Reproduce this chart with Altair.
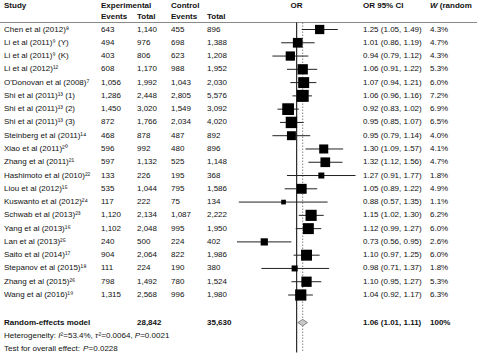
import altair as alt
import pandas as pd

# ---- study-level data ----
studies = [
    "Chen et al (2012)⁸", "Li et al (2011)⁹ (Y)", "Li et al (2011)⁹ (K)",
    "Li et al (2012)¹²", "O'Donovan et al (2008)⁷", "Shi et al (2011)¹³ (1)",
    "Shi et al (2011)¹³ (2)", "Shi et al (2011)¹³ (3)", "Steinberg et al (2011)¹⁴",
    "Xiao et al (2011)²⁰", "Zhang et al (2011)²¹", "Hashimoto et al (2010)²²",
    "Liou et al (2012)¹⁵", "Kuswanto et al (2012)²⁴", "Schwab et al (2013)²³",
    "Yang et al (2013)¹⁶", "Lan et al (2013)²⁵", "Saito et al (2014)¹⁷",
    "Stepanov et al (2015)¹⁸", "Zhang et al (2015)²⁶", "Wang et al (2016)¹⁹",
]
exp_events = [643, 494, 403, 608, 1056, 1286, 1450, 872, 468, 596, 597, 133,
              535, 117, 1120, 1102, 240, 904, 111, 798, 1315]
exp_total = [1140, 976, 806, 1170, 1992, 2448, 3020, 1766, 878, 992, 1132, 226,
             1044, 222, 2134, 2048, 500, 2064, 224, 1492, 2568]
ctl_events = [455, 698, 623, 988, 1043, 2805, 1549, 2034, 487, 480, 525, 195,
              795, 75, 1087, 995, 224, 822, 190, 780, 996]
ctl_total = [896, 1388, 1208, 1952, 2030, 5576, 3092, 4020, 892, 896, 1148, 368,
             1586, 134, 2222, 1950, 402, 1986, 380, 1524, 1980]
odds_ratio = [1.25, 1.01, 0.94, 1.06, 1.07, 1.06, 0.92, 0.95, 0.95, 1.30, 1.32,
              1.27, 1.05, 0.88, 1.15, 1.12, 0.73, 1.10, 0.98, 1.10, 1.04]
ci_low = [1.05, 0.86, 0.79, 0.91, 0.94, 0.96, 0.83, 0.85, 0.79, 1.09, 1.12,
          0.91, 0.89, 0.57, 1.02, 0.99, 0.56, 0.97, 0.71, 0.95, 0.92]
ci_high = [1.49, 1.19, 1.12, 1.22, 1.21, 1.16, 1.02, 1.07, 1.14, 1.57, 1.56,
           1.77, 1.22, 1.35, 1.30, 1.27, 0.95, 1.25, 1.37, 1.27, 1.17]
weight = [4.3, 4.7, 4.3, 5.3, 6.0, 7.2, 6.9, 6.5, 4.0, 4.1, 4.7, 1.8, 4.9, 1.1,
          6.2, 6.0, 2.6, 6.0, 1.8, 5.3, 6.3]

# ---- pooled (random-effects) result ----
pooled_or, pooled_low, pooled_high = 1.06, 1.01, 1.11
pooled_exp_total, pooled_ctl_total = 28842, 35630

FONT = "Liberation Sans"
FS = 8
W, H = 477, 359

body = pd.DataFrame({
    "row": list(range(len(studies))),
    "study": studies,
    "ee": [f"{v:,}" for v in exp_events],
    "et": [f"{v:,}" for v in exp_total],
    "ce": [f"{v:,}" for v in ctl_events],
    "ct": [f"{v:,}" for v in ctl_total],
    "or": odds_ratio,
    "lo": ci_low,
    "hi": ci_high,
    "w": weight,
    "ci": [f"{o:.2f} ({l:.2f}, {h:.2f})" for o, l, h in zip(odds_ratio, ci_low, ci_high)],
    "wt": [f"{v:.1f}%" for v in weight],
})

ROW_SUMMARY, ROW_HET, ROW_TEST = 22.08, 23.1, 24.1
ROW_HEAD1, ROW_HEAD2 = -1.75, -0.95

xscale = alt.Scale(type="log", domain=[0.5, 2.0], range=[225.3, 368.1], clamp=False, nice=False, zero=False)
yscale = alt.Scale(domain=[0, 20], range=[29.5, 295.0], nice=False, zero=False)
Y = alt.Y("row:Q", scale=yscale, axis=None)


def xq(field):
    return alt.X(f"{field}:Q", scale=xscale, axis=None)


def text_layer(df, field, x, bold=False, italic=False, color="#111111"):
    return alt.Chart(df).mark_text(
        align="left", baseline="middle", font=FONT, fontSize=FS,
        fontWeight="bold" if bold else "normal",
        fontStyle="italic" if italic else "normal", color=color,
    ).encode(x=alt.value(x), y=Y, text=f"{field}:N")


# column x-positions (pixels)
X_STUDY, X_EE, X_ET, X_CE, X_CT, X_CI, X_W = 4, 101, 137, 171, 207, 363, 430

layers = []

# header separator
layers.append(alt.Chart(pd.DataFrame({"a": [0]})).mark_rule(color="#8a8a8a", strokeWidth=1).encode(
    x=alt.value(0), x2=alt.value(W), y=alt.value(22.5)))

# reference lines: no effect (solid) and pooled estimate (dotted)
ref = pd.DataFrame({"or": [1.0]})
pool = pd.DataFrame({"or": [pooled_or]})
layers.append(alt.Chart(ref).mark_rule(color="black", strokeWidth=1).encode(
    x=xq("or"), y=alt.value(22.5), y2=alt.value(352.5)))
layers.append(alt.Chart(pool).mark_rule(color="#666666", strokeWidth=0.8, strokeDash=[1.5, 1.5]).encode(
    x=xq("or"), y=alt.value(22.5), y2=alt.value(352.5)))

# confidence intervals and weighted squares
layers.append(alt.Chart(body).mark_rule(color="#222222", strokeWidth=1).encode(
    x=xq("lo"), x2="hi:Q", y=Y))
layers.append(alt.Chart(body).mark_square(color="black", filled=True, opacity=1).encode(
    x=xq("or"), y=Y,
    size=alt.Size("w:Q", scale=alt.Scale(type="linear", domain=[0, 10], range=[0, 200], zero=True), legend=None)))

# pooled diamond
half = 0.24
diamond = pd.DataFrame({
    "x": [pooled_low, pooled_or, pooled_high],
    "y1": [ROW_SUMMARY, ROW_SUMMARY - half, ROW_SUMMARY],
    "y2": [ROW_SUMMARY, ROW_SUMMARY + half, ROW_SUMMARY],
})
layers.append(alt.Chart(diamond).mark_area(color="#c8c8c8", stroke="#707070", strokeWidth=0.8, orient="vertical").encode(
    x=xq("x"), y=alt.Y("y1:Q", scale=yscale, axis=None), y2="y2:Q"))

# table columns
for field, x in [("study", X_STUDY), ("ee", X_EE), ("et", X_ET), ("ce", X_CE),
                 ("ct", X_CT), ("ci", X_CI), ("wt", X_W)]:
    layers.append(text_layer(body, field, x))

# header
head1 = pd.DataFrame({"row": [ROW_HEAD1], "t": ["Study"]})
layers.append(text_layer(head1, "t", X_STUDY, bold=True))
layers.append(text_layer(head1.assign(t="Experimental"), "t", X_EE, bold=True))
layers.append(text_layer(head1.assign(t="Control"), "t", X_CE, bold=True))
layers.append(text_layer(head1.assign(t="OR"), "t", 290.5, bold=True))
layers.append(text_layer(head1.assign(t="OR 95% CI"), "t", X_CI, bold=True))
layers.append(text_layer(head1.assign(t="W"), "t", X_W, bold=True, italic=True))
layers.append(text_layer(head1.assign(t="(random"), "t", X_W + 9.8, bold=True))
head2 = pd.DataFrame({"row": [ROW_HEAD2], "t": ["Events"]})
layers.append(text_layer(head2, "t", X_EE, bold=True))
layers.append(text_layer(head2.assign(t="Total"), "t", X_ET, bold=True))
layers.append(text_layer(head2.assign(t="Events"), "t", X_CE, bold=True))
layers.append(text_layer(head2.assign(t="Total"), "t", X_CT, bold=True))

# summary row
summ = pd.DataFrame({"row": [ROW_SUMMARY], "t": ["Random-effects model"]})
layers.append(text_layer(summ, "t", X_STUDY, bold=True))
layers.append(text_layer(summ.assign(t=f"{pooled_exp_total:,}"), "t", X_ET, bold=True))
layers.append(text_layer(summ.assign(t=f"{pooled_ctl_total:,}"), "t", X_CT, bold=True))
layers.append(text_layer(summ.assign(t=f"{pooled_or:.2f} ({pooled_low:.2f}, {pooled_high:.2f})"), "t", X_CI, bold=True))
layers.append(text_layer(summ.assign(t="100%"), "t", X_W, bold=True))

# heterogeneity and overall-effect statistics (italic symbols set as separate runs)
het = pd.DataFrame({"row": [ROW_HET], "t": ["Heterogeneity:"]})
layers.append(text_layer(het, "t", X_STUDY))
layers.append(text_layer(het.assign(t="I"), "t", 58.2, italic=True))
layers.append(text_layer(het.assign(t="²=53.4%,"), "t", 60.6))
layers.append(text_layer(het.assign(t="τ"), "t", 95.0, italic=True))
layers.append(text_layer(het.assign(t="²=0.0064,"), "t", 98.6))
layers.append(text_layer(het.assign(t="P"), "t", 134.7, italic=True))
layers.append(text_layer(het.assign(t="=0.0021"), "t", 140.2))
test = pd.DataFrame({"row": [ROW_TEST], "t": ["Test for overall effect:"]})
layers.append(text_layer(test, "t", X_STUDY))
layers.append(text_layer(test.assign(t="P"), "t", 83.1, italic=True))
layers.append(text_layer(test.assign(t="=0.0228"), "t", 88.6))

chart = alt.layer(*layers).properties(
    width=W, height=H, padding=0, autosize="none", background="white"
).configure_view(stroke=None)

chart.save("out.html", embed_options={"renderer": "svg", "actions": False})
